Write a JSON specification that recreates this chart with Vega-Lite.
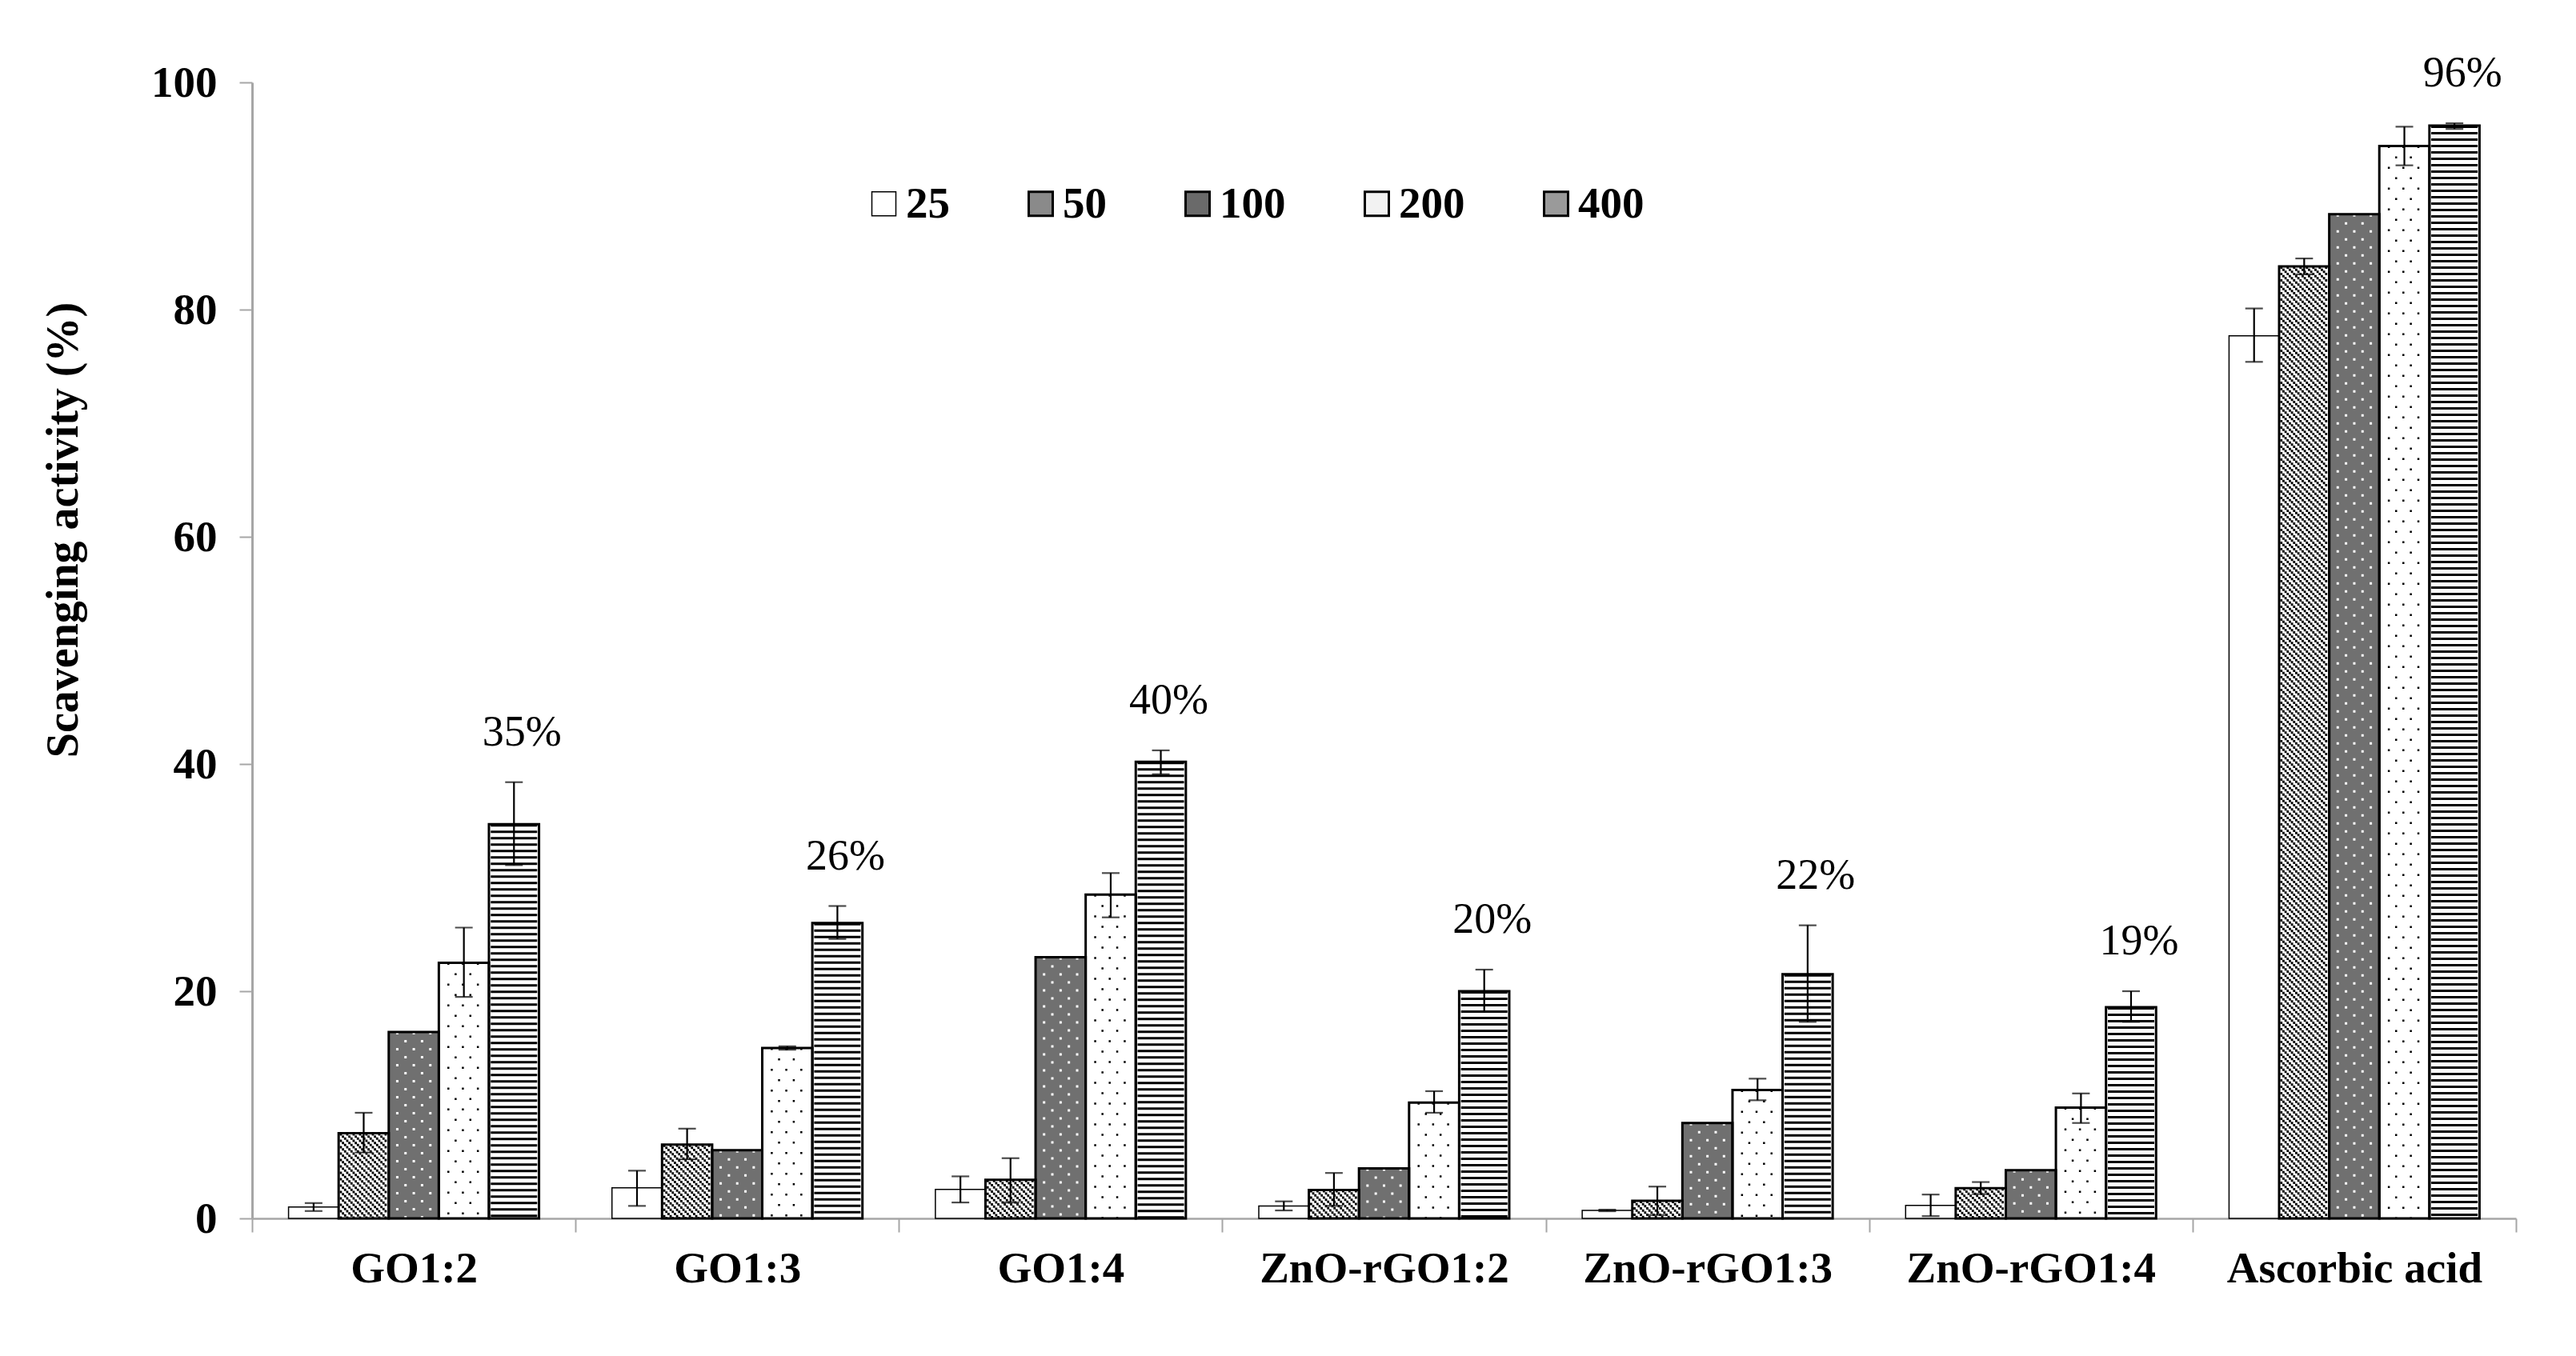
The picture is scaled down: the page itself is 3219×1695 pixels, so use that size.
{
  "$schema": "https://vega.github.io/schema/vega-lite/v6.json",
  "width": 2829,
  "height": 1420,
  "autosize": {"type": "none"},
  "padding": {"left": 315, "top": 103, "right": 75, "bottom": 172},
  "background": "white",
  "config": {
    "view": {"stroke": null},
    "font": "Liberation Serif",
    "axisX": {
      "labelAngle": 0, "labelFont": "Liberation Serif", "labelFontWeight": "bold",
      "labelFontSize": 55, "labelColor": "black", "labelPadding": 19, "labelLimit": 1000,
      "tickBand": "extent", "tickSize": 17, "tickColor": "#a6a6a6", "tickWidth": 2,
      "domainColor": "#a6a6a6", "domainWidth": 2.5
    },
    "axisY": {
      "grid": false,
      "labelFont": "Liberation Serif", "labelFontWeight": "bold", "labelFontSize": 55, "labelColor": "black",
      "labelPadding": 28, "tickSize": 16, "tickColor": "#a6a6a6", "tickWidth": 2,
      "domainColor": "#a6a6a6", "domainWidth": 3,
      "titleFont": "Liberation Serif", "titleFontWeight": "bold", "titleFontSize": 56, "titleColor": "black",
      "titleX": -219, "titleY": 559, "titleAngle": 270, "titleAlign": "center", "titleBaseline": "alphabetic"
    }
  },
  "data": {
    "values": [
      {"group": "GO1:2", "series": "25", "value": 1.0, "lo": 0.65, "hi": 1.35, "label": null},
      {"group": "GO1:2", "series": "50", "value": 7.5, "lo": 5.8, "hi": 9.3, "label": null},
      {"group": "GO1:2", "series": "100", "value": 16.4, "lo": null, "hi": null, "label": null},
      {"group": "GO1:2", "series": "200", "value": 22.5, "lo": 19.5, "hi": 25.6, "label": null},
      {"group": "GO1:2", "series": "400", "value": 34.7, "lo": 31.1, "hi": 38.4, "label": "35%"},
      {"group": "GO1:3", "series": "25", "value": 2.7, "lo": 1.1, "hi": 4.2, "label": null},
      {"group": "GO1:3", "series": "50", "value": 6.5, "lo": 5.2, "hi": 7.9, "label": null},
      {"group": "GO1:3", "series": "100", "value": 6.0, "lo": null, "hi": null, "label": null},
      {"group": "GO1:3", "series": "200", "value": 15.0, "lo": 14.85, "hi": 15.15, "label": null},
      {"group": "GO1:3", "series": "400", "value": 26.0, "lo": 24.6, "hi": 27.5, "label": "26%"},
      {"group": "GO1:4", "series": "25", "value": 2.55, "lo": 1.4, "hi": 3.7, "label": null},
      {"group": "GO1:4", "series": "50", "value": 3.4, "lo": 1.4, "hi": 5.3, "label": null},
      {"group": "GO1:4", "series": "100", "value": 23.0, "lo": null, "hi": null, "label": null},
      {"group": "GO1:4", "series": "200", "value": 28.5, "lo": 26.5, "hi": 30.4, "label": null},
      {"group": "GO1:4", "series": "400", "value": 40.2, "lo": 39.1, "hi": 41.2, "label": "40%"},
      {"group": "ZnO-rGO1:2", "series": "25", "value": 1.1, "lo": 0.7, "hi": 1.5, "label": null},
      {"group": "ZnO-rGO1:2", "series": "50", "value": 2.5, "lo": 1.1, "hi": 4.0, "label": null},
      {"group": "ZnO-rGO1:2", "series": "100", "value": 4.4, "lo": null, "hi": null, "label": null},
      {"group": "ZnO-rGO1:2", "series": "200", "value": 10.2, "lo": 9.3, "hi": 11.2, "label": null},
      {"group": "ZnO-rGO1:2", "series": "400", "value": 20.0, "lo": 18.2, "hi": 21.9, "label": "20%"},
      {"group": "ZnO-rGO1:3", "series": "25", "value": 0.7, "lo": 0.63, "hi": 0.77, "label": null},
      {"group": "ZnO-rGO1:3", "series": "50", "value": 1.55, "lo": 0.3, "hi": 2.8, "label": null},
      {"group": "ZnO-rGO1:3", "series": "100", "value": 8.4, "lo": null, "hi": null, "label": null},
      {"group": "ZnO-rGO1:3", "series": "200", "value": 11.3, "lo": 10.4, "hi": 12.3, "label": null},
      {"group": "ZnO-rGO1:3", "series": "400", "value": 21.5, "lo": 17.3, "hi": 25.8, "label": "22%"},
      {"group": "ZnO-rGO1:4", "series": "25", "value": 1.15, "lo": 0.2, "hi": 2.1, "label": null},
      {"group": "ZnO-rGO1:4", "series": "50", "value": 2.65, "lo": 2.15, "hi": 3.2, "label": null},
      {"group": "ZnO-rGO1:4", "series": "100", "value": 4.25, "lo": null, "hi": null, "label": null},
      {"group": "ZnO-rGO1:4", "series": "200", "value": 9.75, "lo": 8.4, "hi": 11.0, "label": null},
      {"group": "ZnO-rGO1:4", "series": "400", "value": 18.6, "lo": 17.3, "hi": 20.0, "label": "19%"},
      {"group": "Ascorbic acid", "series": "25", "value": 77.7, "lo": 75.4, "hi": 80.1, "label": null},
      {"group": "Ascorbic acid", "series": "50", "value": 83.8, "lo": 83.1, "hi": 84.5, "label": null},
      {"group": "Ascorbic acid", "series": "100", "value": 88.4, "lo": null, "hi": null, "label": null},
      {"group": "Ascorbic acid", "series": "200", "value": 94.4, "lo": 92.7, "hi": 96.1, "label": null},
      {"group": "Ascorbic acid", "series": "400", "value": 96.2, "lo": 95.9, "hi": 96.4, "label": "96%"}
    ]
  },
  "encoding": {
    "x": {
      "field": "group", "type": "nominal", "sort": null, "title": null,
      "scale": {"paddingInner": 0, "paddingOuter": 0}
    },
    "y": {
      "field": "value", "type": "quantitative", "title": "Scavenging activity (%)",
      "scale": {"domain": [0, 100], "nice": false},
      "axis": {"values": [0, 20, 40, 60, 80, 100]}
    }
  },
  "layer": [
    {
      "mark": {"type": "bar"},
      "encoding": {
        "xOffset": {"field": "series", "type": "nominal", "sort": null, "scale": {"domain": ["25", "50", "100", "200", "400"], "paddingInner": 0, "paddingOuter": 0.728}},
        "fill": {"condition": {"test": "datum.series === '100'", "value": "#707070"}, "value": "white"}
      }
    },
    {
      "transform": [{"filter": "datum.series === '400'"}],
      "mark": {"type": "rule", "color": "black", "strokeWidth": 58, "strokeDash": [3, 5], "strokeCap": "butt"},
      "encoding": {
        "xOffset": {"field": "series", "type": "nominal", "sort": null, "scale": {"domain": ["25", "50", "100", "200", "400"], "paddingInner": 0, "paddingOuter": 0.728}},
        "y2": {"datum": 0}
      }
    },
    {"transform": [{"filter": "datum.series === '50'"}], "mark": {"type": "rule", "color": "black", "strokeWidth": 2.8, "strokeDash": [3, 5], "strokeDashOffset": 0, "strokeCap": "butt", "xOffset": -91.15}, "encoding": {"y2": {"datum": 0}}},
    {"transform": [{"filter": "datum.series === '50'"}], "mark": {"type": "rule", "color": "black", "strokeWidth": 2.8, "strokeDash": [3, 5], "strokeDashOffset": 5.333, "strokeCap": "butt", "xOffset": -88.48}, "encoding": {"y2": {"datum": 0}}},
    {"transform": [{"filter": "datum.series === '50'"}], "mark": {"type": "rule", "color": "black", "strokeWidth": 2.8, "strokeDash": [3, 5], "strokeDashOffset": 2.667, "strokeCap": "butt", "xOffset": -85.82}, "encoding": {"y2": {"datum": 0}}},
    {"transform": [{"filter": "datum.series === '50'"}], "mark": {"type": "rule", "color": "black", "strokeWidth": 2.8, "strokeDash": [3, 5], "strokeDashOffset": 0, "strokeCap": "butt", "xOffset": -83.15}, "encoding": {"y2": {"datum": 0}}},
    {"transform": [{"filter": "datum.series === '50'"}], "mark": {"type": "rule", "color": "black", "strokeWidth": 2.8, "strokeDash": [3, 5], "strokeDashOffset": 5.333, "strokeCap": "butt", "xOffset": -80.48}, "encoding": {"y2": {"datum": 0}}},
    {"transform": [{"filter": "datum.series === '50'"}], "mark": {"type": "rule", "color": "black", "strokeWidth": 2.8, "strokeDash": [3, 5], "strokeDashOffset": 2.667, "strokeCap": "butt", "xOffset": -77.82}, "encoding": {"y2": {"datum": 0}}},
    {"transform": [{"filter": "datum.series === '50'"}], "mark": {"type": "rule", "color": "black", "strokeWidth": 2.8, "strokeDash": [3, 5], "strokeDashOffset": 0, "strokeCap": "butt", "xOffset": -75.15}, "encoding": {"y2": {"datum": 0}}},
    {"transform": [{"filter": "datum.series === '50'"}], "mark": {"type": "rule", "color": "black", "strokeWidth": 2.8, "strokeDash": [3, 5], "strokeDashOffset": 5.333, "strokeCap": "butt", "xOffset": -72.48}, "encoding": {"y2": {"datum": 0}}},
    {"transform": [{"filter": "datum.series === '50'"}], "mark": {"type": "rule", "color": "black", "strokeWidth": 2.8, "strokeDash": [3, 5], "strokeDashOffset": 2.667, "strokeCap": "butt", "xOffset": -69.82}, "encoding": {"y2": {"datum": 0}}},
    {"transform": [{"filter": "datum.series === '50'"}], "mark": {"type": "rule", "color": "black", "strokeWidth": 2.8, "strokeDash": [3, 5], "strokeDashOffset": 0, "strokeCap": "butt", "xOffset": -67.15}, "encoding": {"y2": {"datum": 0}}},
    {"transform": [{"filter": "datum.series === '50'"}], "mark": {"type": "rule", "color": "black", "strokeWidth": 2.8, "strokeDash": [3, 5], "strokeDashOffset": 5.333, "strokeCap": "butt", "xOffset": -64.48}, "encoding": {"y2": {"datum": 0}}},
    {"transform": [{"filter": "datum.series === '50'"}], "mark": {"type": "rule", "color": "black", "strokeWidth": 2.8, "strokeDash": [3, 5], "strokeDashOffset": 2.667, "strokeCap": "butt", "xOffset": -61.82}, "encoding": {"y2": {"datum": 0}}},
    {"transform": [{"filter": "datum.series === '50'"}], "mark": {"type": "rule", "color": "black", "strokeWidth": 2.8, "strokeDash": [3, 5], "strokeDashOffset": 0, "strokeCap": "butt", "xOffset": -59.15}, "encoding": {"y2": {"datum": 0}}},
    {"transform": [{"filter": "datum.series === '50'"}], "mark": {"type": "rule", "color": "black", "strokeWidth": 2.8, "strokeDash": [3, 5], "strokeDashOffset": 5.333, "strokeCap": "butt", "xOffset": -56.48}, "encoding": {"y2": {"datum": 0}}},
    {"transform": [{"filter": "datum.series === '50'"}], "mark": {"type": "rule", "color": "black", "strokeWidth": 2.8, "strokeDash": [3, 5], "strokeDashOffset": 2.667, "strokeCap": "butt", "xOffset": -53.82}, "encoding": {"y2": {"datum": 0}}},
    {"transform": [{"filter": "datum.series === '50'"}], "mark": {"type": "rule", "color": "black", "strokeWidth": 2.8, "strokeDash": [3, 5], "strokeDashOffset": 0, "strokeCap": "butt", "xOffset": -51.15}, "encoding": {"y2": {"datum": 0}}},
    {"transform": [{"filter": "datum.series === '50'"}], "mark": {"type": "rule", "color": "black", "strokeWidth": 2.8, "strokeDash": [3, 5], "strokeDashOffset": 5.333, "strokeCap": "butt", "xOffset": -48.48}, "encoding": {"y2": {"datum": 0}}},
    {"transform": [{"filter": "datum.series === '50'"}], "mark": {"type": "rule", "color": "black", "strokeWidth": 2.8, "strokeDash": [3, 5], "strokeDashOffset": 2.667, "strokeCap": "butt", "xOffset": -45.82}, "encoding": {"y2": {"datum": 0}}},
    {"transform": [{"filter": "datum.series === '50'"}], "mark": {"type": "rule", "color": "black", "strokeWidth": 2.8, "strokeDash": [3, 5], "strokeDashOffset": 0, "strokeCap": "butt", "xOffset": -43.15}, "encoding": {"y2": {"datum": 0}}},
    {"transform": [{"filter": "datum.series === '50'"}], "mark": {"type": "rule", "color": "black", "strokeWidth": 2.8, "strokeDash": [3, 5], "strokeDashOffset": 5.333, "strokeCap": "butt", "xOffset": -40.48}, "encoding": {"y2": {"datum": 0}}},
    {"transform": [{"filter": "datum.series === '50'"}], "mark": {"type": "rule", "color": "black", "strokeWidth": 2.8, "strokeDash": [3, 5], "strokeDashOffset": 2.667, "strokeCap": "butt", "xOffset": -37.82}, "encoding": {"y2": {"datum": 0}}},
    {"transform": [{"filter": "datum.series === '50'"}], "mark": {"type": "rule", "color": "black", "strokeWidth": 2.8, "strokeDash": [3, 5], "strokeDashOffset": 0, "strokeCap": "butt", "xOffset": -35.15}, "encoding": {"y2": {"datum": 0}}},
    {"transform": [{"filter": "datum.series === '200'"}], "mark": {"type": "rule", "color": "black", "strokeWidth": 2.5, "strokeDash": [2.5, 23.5], "strokeDashOffset": 0, "strokeCap": "butt", "xOffset": 43.2}, "encoding": {"y2": {"datum": 0}}},
    {"transform": [{"filter": "datum.series === '200'"}], "mark": {"type": "rule", "color": "black", "strokeWidth": 2.5, "strokeDash": [2.5, 23.5], "strokeDashOffset": 0, "strokeCap": "butt", "xOffset": 61.35}, "encoding": {"y2": {"datum": 0}}},
    {"transform": [{"filter": "datum.series === '200'"}], "mark": {"type": "rule", "color": "black", "strokeWidth": 2.5, "strokeDash": [2.5, 23.5], "strokeDashOffset": 0, "strokeCap": "butt", "xOffset": 80.1}, "encoding": {"y2": {"datum": 0}}},
    {"transform": [{"filter": "datum.series === '200'"}], "mark": {"type": "rule", "color": "black", "strokeWidth": 2.5, "strokeDash": [2.5, 23.5], "strokeDashOffset": 13, "strokeCap": "butt", "xOffset": 52.3}, "encoding": {"y2": {"datum": 0}}},
    {"transform": [{"filter": "datum.series === '200'"}], "mark": {"type": "rule", "color": "black", "strokeWidth": 2.5, "strokeDash": [2.5, 23.5], "strokeDashOffset": 13, "strokeCap": "butt", "xOffset": 70.7}, "encoding": {"y2": {"datum": 0}}},
    {"transform": [{"filter": "datum.series === '100'"}], "mark": {"type": "rule", "color": "white", "strokeWidth": 3, "strokeDash": [3, 17], "strokeDashOffset": 0, "strokeCap": "butt", "xOffset": -20.66}, "encoding": {"y2": {"datum": 0}}},
    {"transform": [{"filter": "datum.series === '100'"}], "mark": {"type": "rule", "color": "white", "strokeWidth": 3, "strokeDash": [3, 17], "strokeDashOffset": 0, "strokeCap": "butt", "xOffset": 0.01}, "encoding": {"y2": {"datum": 0}}},
    {"transform": [{"filter": "datum.series === '100'"}], "mark": {"type": "rule", "color": "white", "strokeWidth": 3, "strokeDash": [3, 17], "strokeDashOffset": 0, "strokeCap": "butt", "xOffset": 20.66}, "encoding": {"y2": {"datum": 0}}},
    {"transform": [{"filter": "datum.series === '100'"}], "mark": {"type": "rule", "color": "white", "strokeWidth": 3, "strokeDash": [3, 17], "strokeDashOffset": 10, "strokeCap": "butt", "xOffset": -10.33}, "encoding": {"y2": {"datum": 0}}},
    {"transform": [{"filter": "datum.series === '100'"}], "mark": {"type": "rule", "color": "white", "strokeWidth": 3, "strokeDash": [3, 17], "strokeDashOffset": 10, "strokeCap": "butt", "xOffset": 10.33}, "encoding": {"y2": {"datum": 0}}},
    {
      "mark": {"type": "bar", "fill": "transparent", "stroke": "black"},
      "encoding": {
        "xOffset": {"field": "series", "type": "nominal", "sort": null, "scale": {"domain": ["25", "50", "100", "200", "400"], "paddingInner": 0, "paddingOuter": 0.728}},
        "strokeWidth": {"condition": {"test": "datum.series === '25'", "value": 1.5}, "value": 3}
      }
    },
    {
      "transform": [{"filter": "datum.hi != null"}],
      "mark": {"type": "rule", "color": "black", "strokeWidth": 2.2},
      "encoding": {
        "xOffset": {"field": "series", "type": "nominal", "sort": null, "scale": {"domain": ["25", "50", "100", "200", "400"], "paddingInner": 0, "paddingOuter": 0.728}},
        "y": {"field": "lo", "type": "quantitative"},
        "y2": {"field": "hi"}
      }
    },
    {
      "transform": [{"filter": "datum.hi != null"}],
      "mark": {"type": "tick", "color": "black", "size": 22, "thickness": 2.2, "orient": "horizontal"},
      "encoding": {
        "xOffset": {"field": "series", "type": "nominal", "sort": null, "scale": {"domain": ["25", "50", "100", "200", "400"], "paddingInner": 0, "paddingOuter": 0.728}},
        "y": {"field": "lo", "type": "quantitative"}
      }
    },
    {
      "transform": [{"filter": "datum.hi != null"}],
      "mark": {"type": "tick", "color": "black", "size": 22, "thickness": 2.2, "orient": "horizontal"},
      "encoding": {
        "xOffset": {"field": "series", "type": "nominal", "sort": null, "scale": {"domain": ["25", "50", "100", "200", "400"], "paddingInner": 0, "paddingOuter": 0.728}},
        "y": {"field": "hi", "type": "quantitative"}
      }
    },
    {
      "transform": [{"filter": "datum.label != null"}],
      "mark": {"type": "text", "font": "Liberation Serif", "fontSize": 54, "baseline": "alphabetic", "align": "center", "dy": -46, "dx": 10, "color": "black"},
      "encoding": {
        "xOffset": {"field": "series", "type": "nominal", "sort": null, "scale": {"domain": ["25", "50", "100", "200", "400"], "paddingInner": 0, "paddingOuter": 0.728}},
        "y": {"field": "hi", "type": "quantitative"},
        "text": {"field": "label", "type": "nominal"}
      }
    },
    {
      "mark": {"type": "square", "opacity": 0, "stroke": "black", "strokeWidth": 3},
      "encoding": {
        "fill": {
          "field": "series", "type": "nominal", "sort": null,
          "scale": {"domain": ["25", "50", "100", "200", "400"], "range": ["white", "#8a8a8a", "#6a6a6a", "#f2f2f2", "#9a9a9a"]},
          "legend": {
            "title": null, "orient": "none", "legendX": 762, "legendY": 124, "direction": "horizontal",
            "symbolType": "square", "symbolSize": 900, "symbolStrokeColor": "black", "symbolStrokeWidth": 3,
            "symbolOpacity": 1, "labelFont": "Liberation Serif", "labelFontWeight": "bold", "labelFontSize": 55,
            "labelColor": "black", "labelOffset": 0, "columnPadding": 86, "padding": 0, "labelLimit": 500,
            "encode": {"symbols": {"update": {"stroke": {"value": "black"}, "opacity": {"value": 1}, "strokeWidth": {"signal": "datum.value === '25' ? 1.5 : 3"}}}}
          }
        }
      }
    }
  ]
}
